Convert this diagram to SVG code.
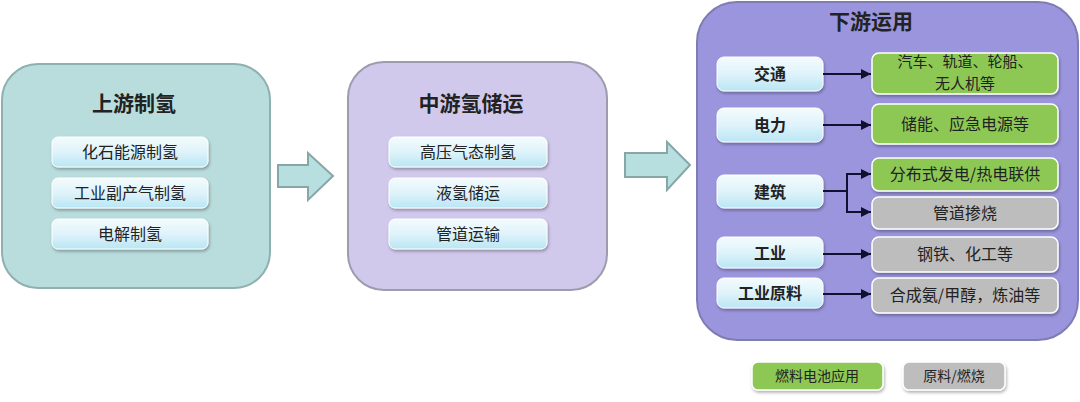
<svg xmlns="http://www.w3.org/2000/svg" width="1080" height="402" viewBox="0 0 1080 402">
<defs>
<linearGradient id="gb" x1="0" y1="0" x2="0" y2="1">
<stop offset="0" stop-color="#f3fbfd"/>
<stop offset="0.5" stop-color="#dff3fa"/>
<stop offset="1" stop-color="#b9e6f4"/>
</linearGradient>
<filter id="sh" x="-10%" y="-20%" width="120%" height="150%">
<feDropShadow dx="1" dy="2" stdDeviation="1.5" flood-color="#000" flood-opacity="0.3"/>
</filter>
<marker id="ah" viewBox="0 0 10 10" refX="10" refY="5" markerWidth="5" markerHeight="5" orient="auto">
<path d="M0,0 L10,5 L0,10 z" fill="#101030"/>
</marker>
<style>
text{font-family:"Noto Sans CJK SC","Noto Sans",sans-serif;text-anchor:middle;fill:#222}
.title{font-size:21px;font-weight:bold}
.sub{font-size:16px}
.lbl{font-size:16px;font-weight:bold}
.res{font-size:16px}
.res2{font-size:15px}
.leg{font-size:14px}
.sb{fill:url(#gb);stroke:#ffffff;stroke-width:1;filter:url(#sh)}
.gr{fill:#8dc855;stroke:#ffffff;stroke-width:1.5;filter:url(#sh)}
.gy{fill:#bdbdbd;stroke:#ffffff;stroke-width:1.5;filter:url(#sh)}
.conn{stroke:#101030;stroke-width:2;fill:none}
.bigarrow{fill:#b7dfe0;stroke:#87a6a7;stroke-width:2}
</style>
</defs>
<rect width="1080" height="402" fill="#ffffff"/>

<g id="upstream">
<rect x="2" y="64" width="268" height="224" rx="36" fill="#b9dcdc" stroke="#8fb0b0" stroke-width="2"/>
<text class="title" x="134" y="111">上游制氢</text>
<rect class="sb" x="52" y="137" width="156" height="30" rx="6"/>
<text class="sub" x="130" y="158">化石能源制氢</text>
<rect class="sb" x="52" y="178" width="156" height="30" rx="6"/>
<text class="sub" x="130" y="199">工业副产气制氢</text>
<rect class="sb" x="52" y="219" width="156" height="30" rx="6"/>
<text class="sub" x="130" y="240">电解制氢</text>
</g>

<g id="midstream">
<rect x="348" y="62" width="259" height="228" rx="36" fill="#d0c9ec" stroke="#9d9cae" stroke-width="2"/>
<text class="title" x="471" y="111">中游氢储运</text>
<rect class="sb" x="389" y="137" width="158" height="30" rx="6"/>
<text class="sub" x="468" y="158">高压气态制氢</text>
<rect class="sb" x="389" y="178" width="158" height="30" rx="6"/>
<text class="sub" x="468" y="199">液氢储运</text>
<rect class="sb" x="389" y="219" width="158" height="30" rx="6"/>
<text class="sub" x="468" y="240">管道运输</text>
</g>

<g id="downstream">
<rect x="697" y="2" width="381" height="338" rx="40" fill="#9b95dd" stroke="#7f7cb4" stroke-width="2"/>
<text class="title" x="871" y="29">下游运用</text>
</g>

<g id="n-jiaotong">
<rect class="sb" x="717" y="57" width="106" height="34" rx="7"/>
<text class="lbl" x="770" y="80">交通</text>
</g>
<g id="n-dianli">
<rect class="sb" x="717" y="108" width="106" height="34" rx="7"/>
<text class="lbl" x="770" y="131">电力</text>
</g>
<g id="n-jianzhu">
<rect class="sb" x="717" y="175" width="106" height="33" rx="7"/>
<text class="lbl" x="770" y="198">建筑</text>
</g>
<g id="n-gongye">
<rect class="sb" x="717" y="237" width="106" height="31" rx="7"/>
<text class="lbl" x="770" y="259">工业</text>
</g>
<g id="n-yuanliao">
<rect class="sb" x="717" y="278" width="106" height="30" rx="7"/>
<text class="lbl" x="770" y="299">工业原料</text>
</g>

<g id="r-jiaotong">
<rect class="gr" x="872" y="53" width="186" height="41" rx="7"/>
<text class="res2" x="965" y="67">汽车、轨道、轮船、</text>
<text class="res2" x="965" y="89">无人机等</text>
</g>
<g id="r-dianli">
<rect class="gr" x="872" y="104" width="186" height="40" rx="7"/>
<text class="res" x="965" y="130">储能、应急电源等</text>
</g>
<g id="r-fenbu">
<rect class="gr" x="872" y="158" width="186" height="33" rx="7"/>
<text class="res" x="965" y="180">分布式发电/热电联供</text>
</g>
<g id="r-guandao">
<rect class="gy" x="872" y="197" width="186" height="32" rx="7"/>
<text class="res" x="965" y="219">管道掺烧</text>
</g>
<g id="r-gangtie">
<rect class="gy" x="872" y="237" width="186" height="35" rx="7"/>
<text class="res" x="965" y="260">钢铁、化工等</text>
</g>
<g id="r-hecheng">
<rect class="gy" x="872" y="278" width="186" height="35" rx="7"/>
<text class="res" x="965" y="301">合成氨/甲醇，炼油等</text>
</g>

<g id="connectors">
<polygon class="bigarrow" points="278,165 308,165 308,153 333,176 308,200 308,187 278,187"/>
<polygon class="bigarrow" points="625,153 667,153 667,142 690,165 667,190 667,177 625,177"/>
<line class="conn" x1="823" y1="74" x2="871" y2="74" marker-end="url(#ah)"/>
<line class="conn" x1="823" y1="125" x2="871" y2="125" marker-end="url(#ah)"/>
<path class="conn" d="M823,191 H847"/>
<path class="conn" d="M847,174 V212"/>
<line class="conn" x1="846" y1="174" x2="871" y2="174" marker-end="url(#ah)"/>
<line class="conn" x1="846" y1="212" x2="871" y2="212" marker-end="url(#ah)"/>
<line class="conn" x1="823" y1="254" x2="871" y2="254" marker-end="url(#ah)"/>
<line class="conn" x1="823" y1="294" x2="871" y2="294" marker-end="url(#ah)"/>
</g>

<g id="legend">
<g id="legend-fuelcell">
<rect class="gr" x="752" y="362" width="131" height="28" rx="6"/>
<text class="leg" x="817" y="381">燃料电池应用</text>
</g>
<g id="legend-raw">
<rect class="gy" x="903" y="362" width="102" height="28" rx="6"/>
<text class="leg" x="954" y="381">原料/燃烧</text>
</g>
</g>
</svg>
